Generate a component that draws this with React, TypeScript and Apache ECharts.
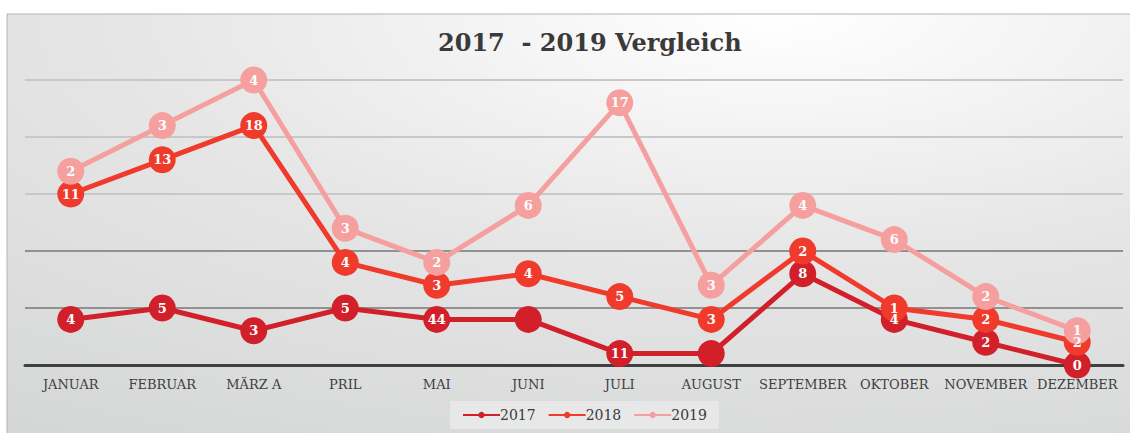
import React, { useEffect, useRef } from "react";
import * as echarts from "echarts";

const months = ["JANUAR", "FEBRUAR", "MÄRZ A", "PRIL", "MAI", "JUNI", "JULI", "AUGUST", "SEPTEMBER", "OKTOBER", "NOVEMBER", "DEZEMBER"];
const values2017 = [4, 5, 3, 5, 4, 4, 1, 1, 8, 4, 2, 0];
const labels2017 = ["4", "5", "3", "5", "44", "", "11", "", "8", "4", "2", "0"];
const values2018 = [11, 13, 18, 4, 3, 4, 5, 3, 2, 1, 2, 2];
const values2019 = [2, 3, 4, 3, 2, 6, 17, 3, 4, 6, 2, 1];
const seriesNames = ["2017", "2018", "2019"];
const colors = ["#d2202b", "#ef3a2c", "#f5a09e"];

const slab = "'DejaVu Serif', serif";

export default function App() {
  const ref = useRef<HTMLDivElement>(null);
  useEffect(() => {
    const chart = echarts.init(ref.current!, null, { renderer: "svg" });
    const mk = (i: number, data: number[], labels?: string[]) => ({
      name: seriesNames[i],
      type: "line",
      stack: "total",
      data,
      symbol: "circle",
      symbolSize: 27,
      lineStyle: { width: 5, color: colors[i] },
      itemStyle: { color: colors[i] },
      label: {
        show: true,
        position: "inside",
        color: "#ffffff",
        fontFamily: slab,
        fontWeight: "bold",
        fontSize: 13,
        formatter: (p: any) => (labels ? labels[p.dataIndex] : String(p.value)),
      },
    });
    chart.setOption({
      animation: false,
      graphic: [
        {
          type: "rect",
          z: -10,
          silent: true,
          shape: { x: 7, y: 14, width: 1130, height: 425 },
          style: {
            fill: {
              type: "radial",
              x: 0.68,
              y: 0.0,
              r: 1.9,
              colorStops: [
                { offset: 0, color: "#ffffff" },
                { offset: 0.3, color: "#e6e6e6" },
                { offset: 0.6, color: "#d6d7d7" },
                { offset: 1, color: "#bdbfc0" },
              ],
            },
            stroke: "#b4b4b4",
            lineWidth: 1,
          },
        },
      ],
      title: {
        text: "2017  - 2019 Vergleich",
        left: 433,
        top: 25,
        textStyle: { fontFamily: slab, fontWeight: "bold", fontSize: 24, color: "#3a3a3a" },
      },
      legend: {
        data: seriesNames,
        left: 450,
        top: 401,
        itemWidth: 37,
        itemHeight: 8,
        itemGap: 12,
        padding: [7, 12, 7, 12],
        backgroundColor: "rgba(240,240,240,0.6)",
        textStyle: { fontFamily: slab, fontSize: 14, color: "#3a3a3a", padding: [0, 0, 0, -5] },
      },
      grid: { left: 25, right: 7, top: 80, bottom: 68, containLabel: false },
      xAxis: {
        type: "category",
        data: months,
        boundaryGap: true,
        axisLine: { lineStyle: { color: "#404040", width: 3 } },
        axisTick: { show: false },
        axisLabel: { color: "#404040", fontFamily: slab, fontSize: 13, margin: 13, interval: 0 },
      },
      yAxis: {
        type: "value",
        min: 0,
        max: 25,
        interval: 5,
        axisLabel: { show: false },
        axisLine: { show: false },
        axisTick: { show: false },
        splitLine: {
          lineStyle: { width: 2, color: ["#404040", "#919191", "#919191", "#c8c8c8", "#c8c8c8", "#c8c8c8"] },
        },
      },
      series: [mk(0, values2017, labels2017), mk(1, values2018), mk(2, values2019)],
    });
    return () => chart.dispose();
  }, []);
  return <div ref={ref} style={{ position: "absolute", left: 0, top: 0, width: 1130, height: 433 }} />;
}
